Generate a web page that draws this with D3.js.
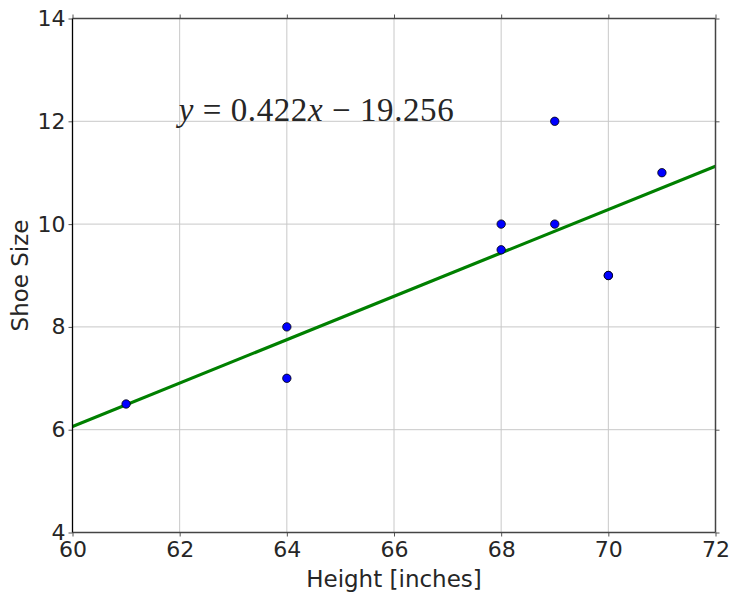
<!DOCTYPE html>
<html><head><meta charset="utf-8">
<script src="https://cdn.jsdelivr.net/npm/d3@7"></script>
<style>body{margin:0;background:#fff}svg{display:block}</style>
</head><body>
<svg id="c" width="735" height="597"></svg>
<script>
const heights = [61, 64, 64, 68, 68, 69, 69, 70, 70, 71];
const shoeSizes = [6.5, 8, 7, 10, 9.5, 12, 10, 9, 9, 11];
const xTicks = [60, 62, 64, 66, 68, 70, 72];
const yTicks = [4, 6, 8, 10, 12, 14];
const fitSlope = 0.422;
const fitIntercept = -19.256;
const xDomain = [60, 72];
const yDomain = [4, 14];

const svg = d3.select("#c");
const L = 72.5, R = 715.5, T = 18.5, B = 532.5;
const x = d3.scaleLinear().domain(xDomain).range([L, R]);
const y = d3.scaleLinear().domain(yDomain).range([B, T]);
const font = "'DejaVu Sans', sans-serif";

// grid
svg.append("g").selectAll("line").data(xTicks.slice(1, -1)).join("line")
  .attr("x1", d => x(d)).attr("x2", d => x(d)).attr("y1", T).attr("y2", B)
  .attr("stroke", "#c8c8c8").attr("stroke-width", 1);
svg.append("g").selectAll("line").data(yTicks.slice(1, -1)).join("line")
  .attr("y1", d => y(d)).attr("y2", d => y(d)).attr("x1", L).attr("x2", R)
  .attr("stroke", "#c8c8c8").attr("stroke-width", 1);

// axes
function styleAxis(g) {
  g.select(".domain").remove();
  g.selectAll(".tick line").attr("stroke", "#555").attr("stroke-width", 1);
  g.selectAll("text").attr("fill", "#262626").style("font-family", font).style("font-size", "22px");
}
svg.append("g").attr("transform", `translate(0,${B})`)
  .call(d3.axisBottom(x).tickValues(xTicks).tickSize(4).tickPadding(5)).call(styleAxis);
svg.append("g").attr("transform", `translate(${L},0)`)
  .call(d3.axisLeft(y).tickValues(yTicks).tickSize(4).tickPadding(3)).call(styleAxis);
svg.append("g").attr("transform", `translate(0,${T})`)
  .call(d3.axisTop(x).tickValues(xTicks).tickSize(4).tickFormat("")).call(styleAxis);
svg.append("g").attr("transform", `translate(${R},0)`)
  .call(d3.axisRight(y).tickValues(yTicks).tickSize(4).tickFormat("")).call(styleAxis);

// fit line
svg.append("defs").append("clipPath").attr("id", "clip")
  .append("rect").attr("x", L).attr("y", T).attr("width", R - L).attr("height", B - T);
const fitPts = xDomain.map(v => [v, fitSlope * v + fitIntercept]);
svg.append("path").attr("clip-path", "url(#clip)")
  .attr("d", d3.line().x(d => x(d[0])).y(d => y(d[1]))(fitPts))
  .attr("fill", "none").attr("stroke", "#008000").attr("stroke-width", 3.2);

// points
svg.append("g").selectAll("circle").data(heights.map((h, i) => [h, shoeSizes[i]])).join("circle")
  .attr("cx", d => x(d[0])).attr("cy", d => y(d[1])).attr("r", 4.2)
  .attr("fill", "#0000ff").attr("stroke", "#000").attr("stroke-width", 0.8);

// spines
svg.append("line").attr("x1", L).attr("x2", R).attr("y1", T).attr("y2", T).attr("stroke", "#444").attr("stroke-width", 1.5);
svg.append("line").attr("x1", L).attr("x2", R).attr("y1", B).attr("y2", B).attr("stroke", "#444").attr("stroke-width", 1.5);
svg.append("line").attr("x1", R).attr("x2", R).attr("y1", T).attr("y2", B).attr("stroke", "#444").attr("stroke-width", 1.5);
svg.append("line").attr("x1", L).attr("x2", L).attr("y1", T).attr("y2", B).attr("stroke", "#000").attr("stroke-width", 1.3);

// labels
svg.append("text").attr("x", (L + R) / 2).attr("y", 587).attr("text-anchor", "middle")
  .style("font-family", font).style("font-size", "23px").attr("fill", "#262626").text("Height [inches]");
svg.append("text").attr("transform", `translate(28,${(T + B) / 2}) rotate(-90)`).attr("text-anchor", "middle")
  .style("font-family", font).style("font-size", "23px").attr("fill", "#262626").text("Shoe Size");

// equation
const eq = svg.append("text").attr("x", x(62) - 1).attr("y", y(12))
  .style("font-family", "'Liberation Serif', 'DejaVu Serif', serif").style("font-size", "33px")
  .attr("fill", "#262626").attr("textLength", 275).attr("lengthAdjust", "spacing")
  .style("white-space", "pre");
eq.append("tspan").style("font-style", "italic").text("y");
eq.append("tspan").text(" = " + fitSlope.toFixed(3));
eq.append("tspan").style("font-style", "italic").text("x");
eq.append("tspan").text(" \u2212 " + Math.abs(fitIntercept).toFixed(3));
</script>
</body></html>
